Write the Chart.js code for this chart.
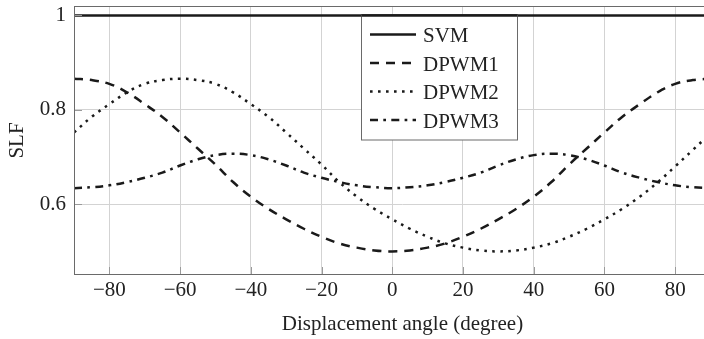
<!DOCTYPE html>
<html>
<head>
<meta charset="utf-8">
<script src="https://cdn.jsdelivr.net/npm/chart.js@4.4.1/dist/chart.umd.min.js"></script>
<style>
  html, body { margin: 0; padding: 0; width: 704px; height: 339px; overflow: hidden; background: #fff; }
  #wrap { position: absolute; left: 0; top: 0; width: 733px; height: 339px; }
  canvas { display: block; }
</style>
</head>
<body>
<div id="wrap"><canvas id="c" width="733" height="339" style="width:733px;height:339px"></canvas></div>
<script>
// ---- data ----
const angles = [-90,-85,-80,-75,-70,-65,-60,-55,-50,-45,-40,-35,-30,-25,-20,-15,-10,-5,0,5,10,15,20,25,30,35,40,45,50,55,60,65,70,75,80,85,90];
const svm   = [1,1,1,1,1,1,1,1,1,1,1,1,1,1,1,1,1,1,1,1,1,1,1,1,1,1,1,1,1,1,1,1,1,1,1,1,1];
const dpwm1 = [0.866,0.863,0.855,0.837,0.812,0.785,0.752,0.718,0.684,0.647,0.616,0.590,0.568,0.548,0.531,0.517,0.508,0.502,0.500,0.502,0.508,0.517,0.531,0.548,0.568,0.590,0.616,0.647,0.684,0.718,0.752,0.785,0.812,0.837,0.855,0.863,0.866];
const dpwm2 = [0.752,0.785,0.812,0.837,0.855,0.863,0.866,0.863,0.855,0.837,0.812,0.785,0.752,0.718,0.684,0.647,0.616,0.590,0.568,0.548,0.531,0.517,0.508,0.502,0.500,0.502,0.508,0.517,0.531,0.548,0.568,0.590,0.616,0.646,0.680,0.715,0.750];
const dpwm3 = [0.634,0.636,0.640,0.647,0.656,0.667,0.682,0.695,0.704,0.707,0.704,0.695,0.682,0.667,0.656,0.647,0.640,0.636,0.634,0.636,0.640,0.647,0.656,0.667,0.682,0.695,0.704,0.707,0.704,0.695,0.682,0.667,0.656,0.647,0.640,0.636,0.634];
const seriesNames = ['SVM','DPWM1','DPWM2','DPWM3'];
const xTickValues = [-80,-60,-40,-20,0,20,40,60,80];
const yTickValues = [0.6,0.8,1];
const xTitle = 'Displacement angle (degree)';
const yTitle = 'SLF';

// ---- styles ----
const FONT = '"Liberation Serif", "Times New Roman", serif';
const LINE = '#1a1a1a';
const dashes = [[], [9, 7], [2.6, 5.4], [8, 5.3, 2.7, 5.3]];
const lw = 2.5;

const toPts = arr => arr.map((v, i) => ({ x: angles[i], y: v }));
const allSeries = [svm, dpwm1, dpwm2, dpwm3];

const datasets = allSeries.map((arr, i) => ({
  label: seriesNames[i],
  data: toPts(arr),
  borderColor: LINE,
  borderWidth: lw,
  borderDash: dashes[i],
  borderCapStyle: 'butt',
  pointRadius: 0,
  tension: 0.4,
  fill: false
}));

const minus = v => (v < 0 ? '\u2212' + Math.abs(v) : String(v));

const framePlugin = {
  id: 'frame',
  afterDatasetsDraw(chart) {
    const { ctx, chartArea: a, scales } = chart;
    ctx.save();
    // inner tick marks
    ctx.strokeStyle = '#9a9a9a';
    ctx.lineWidth = 1;
    ctx.setLineDash([]);
    xTickValues.forEach(v => {
      const px = Math.round(scales.x.getPixelForValue(v)) + 0.5;
      ctx.beginPath(); ctx.moveTo(px, a.bottom); ctx.lineTo(px, a.bottom - 8); ctx.stroke();
    });
    yTickValues.forEach(v => {
      const py = Math.round(scales.y.getPixelForValue(v)) + 0.5;
      ctx.beginPath(); ctx.moveTo(a.left, py); ctx.lineTo(a.left + 8, py); ctx.stroke();
    });
    // frame
    ctx.strokeStyle = '#6a6a6a';
    ctx.strokeRect(Math.round(a.left) + 0.5, Math.round(a.top) + 0.5, Math.round(a.width) - 1, Math.round(a.height) - 1);

    // legend box
    const bx = 361.5, by = 15.5, bw = 156, bh = 124.5;
    ctx.fillStyle = '#ffffff';
    ctx.fillRect(bx, by, bw, bh);
    ctx.strokeStyle = '#6a6a6a';
    ctx.strokeRect(bx, by, bw, bh);
    // SVM line stays visible across the legend's top edge (as in reference)
    ctx.strokeStyle = LINE;
    ctx.lineWidth = lw;
    ctx.beginPath();
    const ySvm = scales.y.getPixelForValue(1);
    ctx.moveTo(bx, ySvm); ctx.lineTo(bx + bw, ySvm); ctx.stroke();

    ctx.font = '21px ' + FONT;
    ctx.textBaseline = 'alphabetic';
    ctx.textAlign = 'left';
    seriesNames.forEach((name, i) => {
      const base = 42 + i * 28.5;
      const ly = base - 7.5;
      ctx.strokeStyle = LINE;
      ctx.lineWidth = lw;
      ctx.lineCap = 'butt';
      ctx.setLineDash(dashes[i]);
      ctx.beginPath(); ctx.moveTo(370, ly); ctx.lineTo(416, ly); ctx.stroke();
      ctx.setLineDash([]);
      ctx.fillStyle = '#222';
      ctx.fillText(name, 423, base);
    });
    ctx.restore();
  }
};

new Chart(document.getElementById('c'), {
  type: 'line',
  data: { datasets },
  plugins: [framePlugin],
  options: {
    responsive: false,
    animation: false,
    devicePixelRatio: 1,
    layout: { padding: { top: 6, right: 2, left: 0, bottom: 0 } },
    plugins: { legend: { display: false }, tooltip: { enabled: false } },
    scales: {
      x: {
        type: 'linear',
        min: -90,
        max: 95.8,
        afterBuildTicks: s => { s.ticks = xTickValues.map(v => ({ value: v })); },
        afterFit: s => { s.height = 64; s.paddingLeft = 0; s.paddingRight = 0; },
        ticks: {
          autoSkip: false, maxRotation: 0, padding: 3,
          color: '#222', font: { family: FONT, size: 21 },
          callback: v => minus(v)
        },
        grid: { color: '#d3d3d3', lineWidth: 1, drawTicks: false },
        border: { display: false },
        title: {
          display: true, text: xTitle, color: '#222',
          font: { family: FONT, size: 21, lineHeight: 1.2 },
          padding: { top: 0, bottom: 2 }
        }
      },
      y: {
        type: 'linear',
        min: 0.45,
        max: 1.02,
        afterBuildTicks: s => { s.ticks = yTickValues.map(v => ({ value: v })); },
        afterFit: s => { s.width = 74; s.paddingTop = 0; s.paddingBottom = 0; },
        ticks: {
          padding: 8, color: '#222', font: { family: FONT, size: 21 },
          callback: v => (v === 1 ? '1' : v.toFixed(1))
        },
        grid: { color: '#d3d3d3', lineWidth: 1, drawTicks: false },
        border: { display: false },
        title: {
          display: true, text: yTitle, color: '#222',
          font: { family: FONT, size: 21, lineHeight: 1.2 },
          padding: { top: 5, bottom: 0 }
        }
      }
    }
  }
});
</script>
</body>
</html>
